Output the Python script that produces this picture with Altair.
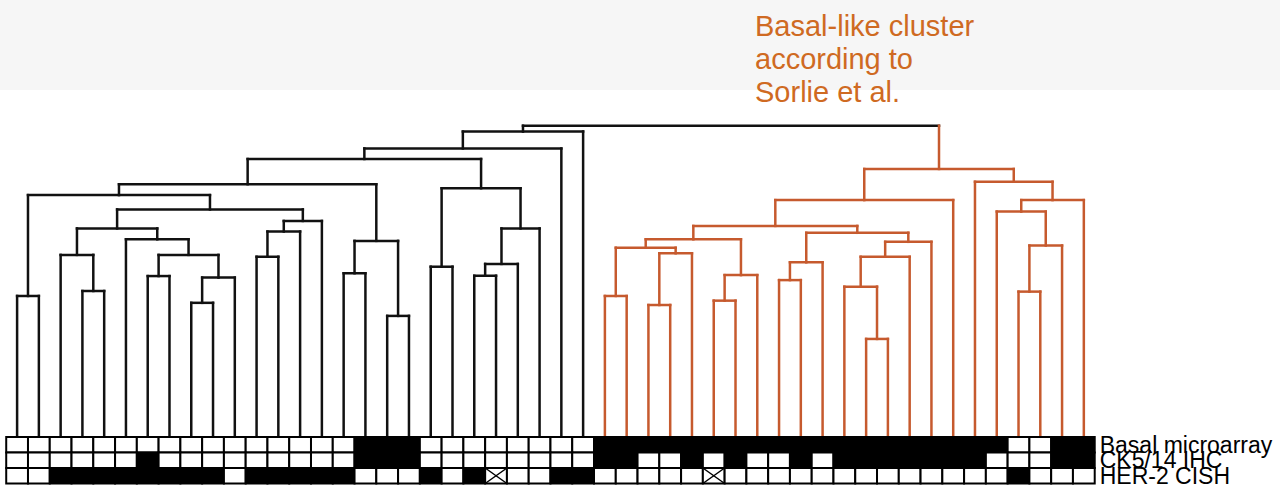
import altair as alt
import pandas as pd

# ---------------------------------------------------------------- data
N_LEAVES = 50
FIRST_BASAL_LEAF = 27  # leaves 27..49 form the basal-like cluster

# Agglomerative linkage: children are leaf ids (0-49) or earlier clusters (50 + row),
# heights are merge distances (root = 1).
link_left = [0, 3, 2, 6, 8, 54, 53, 5, 52, 11, 59, 60, 58, 50, 15, 17, 64, 63, 19, 21,
             69, 70, 68, 67, 73, 74,
             27, 29, 77, 76, 32, 80, 79, 35, 83, 39, 38, 86, 87, 84, 82, 90, 46, 92, 45, 94,
             44, 91, 75]
link_right = [1, 4, 51, 7, 9, 10, 55, 56, 57, 12, 13, 14, 61, 62, 16, 18, 65, 66, 20, 22,
              23, 24, 71, 72, 25, 26,
              28, 30, 31, 78, 33, 34, 81, 36, 37, 40, 85, 41, 42, 88, 89, 43, 47, 48, 93, 49,
              95, 96, 97]
link_height = [0.453, 0.469, 0.585, 0.517, 0.431, 0.512, 0.585, 0.635, 0.670, 0.579,
               0.660, 0.694, 0.731, 0.777, 0.526, 0.389, 0.630, 0.812, 0.547, 0.518,
               0.556, 0.670, 0.799, 0.893, 0.927, 0.981,
               0.453, 0.424, 0.590, 0.608, 0.438, 0.520, 0.635, 0.504, 0.561, 0.315,
               0.483, 0.579, 0.627, 0.656, 0.678, 0.761, 0.467, 0.615, 0.724, 0.761,
               0.820, 0.861, 1.000]

# Annotation tracks under the leaves: 1 = positive (black), 0 = negative, x = not evaluable
row_names = ["Basal microarray", "CK5/14 IHC", "HER-2 CISH"]
row_status = [
    "0000000000000000 111 00000000 1111111111111111111 00 11",
    "000000 1 000000000 111 00000000 11 00 1 0 1 00 1 0 1111111 000 11",
    "00 11111111 0 11111 000 1 0 1 x 00 11 00000 x 0000000000000 1 000",
]
row_status = [s.replace(" ", "") for s in row_status]

title_lines = ["Basal-like cluster", "according to", "Sorlie et al."]

# ---------------------------------------------------------------- geometry
W, H = 1280, 490
LEAF_STEP_PX = 21.77
FIRST_LEAF_PX = 17.1
UNIT_PX = 311.3          # pixels per unit of merge distance
BASE_PX = 437            # pixel row where the leaves meet the tracks
ROW_H = 15.5 / UNIT_PX   # height of one annotation track in distance units

x_scale = alt.Scale(domain=[-FIRST_LEAF_PX / LEAF_STEP_PX, (W - FIRST_LEAF_PX) / LEAF_STEP_PX],
                    nice=False, zero=False)
y_scale = alt.Scale(domain=[-(H - BASE_PX) / UNIT_PX, BASE_PX / UNIT_PX], nice=False, zero=False)

ORANGE_LINE = "#c65a2e"
ORANGE_TEXT = "#cf6a22"
FONT = "Liberation Sans"

# ---------------------------------------------------------------- dendrogram segments
pos = {i: float(i) for i in range(N_LEAVES)}
hgt = {i: 0.0 for i in range(N_LEAVES)}
members = {i: {i} for i in range(N_LEAVES)}


def group_of(node):
    return "basal" if min(members[node]) >= FIRST_BASAL_LEAF else "other"


segments = []
for k, (a, b, h) in enumerate(zip(link_left, link_right, link_height)):
    node = N_LEAVES + k
    pos[node] = (pos[a] + pos[b]) / 2
    hgt[node] = h
    members[node] = members[a] | members[b]
    segments.append(dict(x=pos[a], x2=pos[b], y=h, y2=h, group=group_of(node)))
    for c in (a, b):
        segments.append(dict(x=pos[c], x2=pos[c], y=hgt[c], y2=h, group=group_of(c)))
seg_df = pd.DataFrame(segments)

# ---------------------------------------------------------------- track cells
cells, crosses, labels = [], [], []
for r, (name, status) in enumerate(zip(row_names, row_status)):
    assert len(status) == N_LEAVES
    top, bottom = -r * ROW_H, -(r + 1) * ROW_H
    for i, s in enumerate(status):
        cells.append(dict(x=i - 0.5, x2=i + 0.5, y=top, y2=bottom,
                          status={"1": "pos", "0": "neg", "x": "na"}[s]))
        if s == "x":
            crosses.append(dict(x=i - 0.5, x2=i + 0.5, y=top, y2=bottom))
            crosses.append(dict(x=i - 0.5, x2=i + 0.5, y=bottom, y2=top))
    labels.append(dict(x=N_LEAVES - 0.5, y=bottom, label=name))
cell_df = pd.DataFrame(cells)
cross_df = pd.DataFrame(crosses)
label_df = pd.DataFrame(labels)

# ---------------------------------------------------------------- layers
band = alt.Chart(pd.DataFrame({"k": [0]})).mark_rect(color="#f6f6f6").encode(
    x=alt.value(0), x2=alt.value(W), y=alt.value(0), y2=alt.value(90)
)

tree = alt.Chart(seg_df).mark_rule(strokeWidth=2.5, strokeCap="square").encode(
    x=alt.X("x:Q", scale=x_scale, axis=None),
    x2="x2:Q",
    y=alt.Y("y:Q", scale=y_scale, axis=None),
    y2="y2:Q",
    color=alt.Color("group:N", scale=alt.Scale(domain=["other", "basal"],
                                               range=["#111111", ORANGE_LINE]), legend=None),
)

cell_layer = alt.Chart(cell_df).mark_rect(stroke="black", strokeWidth=2).encode(
    x=alt.X("x:Q", scale=x_scale, axis=None),
    x2="x2:Q",
    y=alt.Y("y:Q", scale=y_scale, axis=None),
    y2="y2:Q",
    fill=alt.Fill("status:N", scale=alt.Scale(domain=["pos", "neg", "na"],
                                              range=["black", "white", "white"]), legend=None),
)

cross_layer = alt.Chart(cross_df).mark_rule(color="black", strokeWidth=1.5).encode(
    x=alt.X("x:Q", scale=x_scale, axis=None),
    x2="x2:Q",
    y=alt.Y("y:Q", scale=y_scale, axis=None),
    y2="y2:Q",
)

label_layer = alt.Chart(label_df).mark_text(
    align="left", baseline="alphabetic", dx=5, fontSize=23, font=FONT, color="black"
).encode(
    x=alt.X("x:Q", scale=x_scale, axis=None),
    y=alt.Y("y:Q", scale=y_scale, axis=None),
    text="label:N",
)

title_layer = alt.Chart(pd.DataFrame({"k": [0]})).mark_text(
    align="left", baseline="alphabetic", fontSize=29, font=FONT, color=ORANGE_TEXT,
    lineHeight=32.75,
).encode(
    x=alt.value(755), y=alt.value(36), text=alt.value(title_lines)
)

chart = alt.layer(band, tree, cell_layer, cross_layer, label_layer, title_layer).properties(
    width=W, height=H, autosize="none", padding=0, background="white"
).configure_view(stroke=None)

chart.save("out.html", embed_options={"renderer": "svg", "actions": False})
